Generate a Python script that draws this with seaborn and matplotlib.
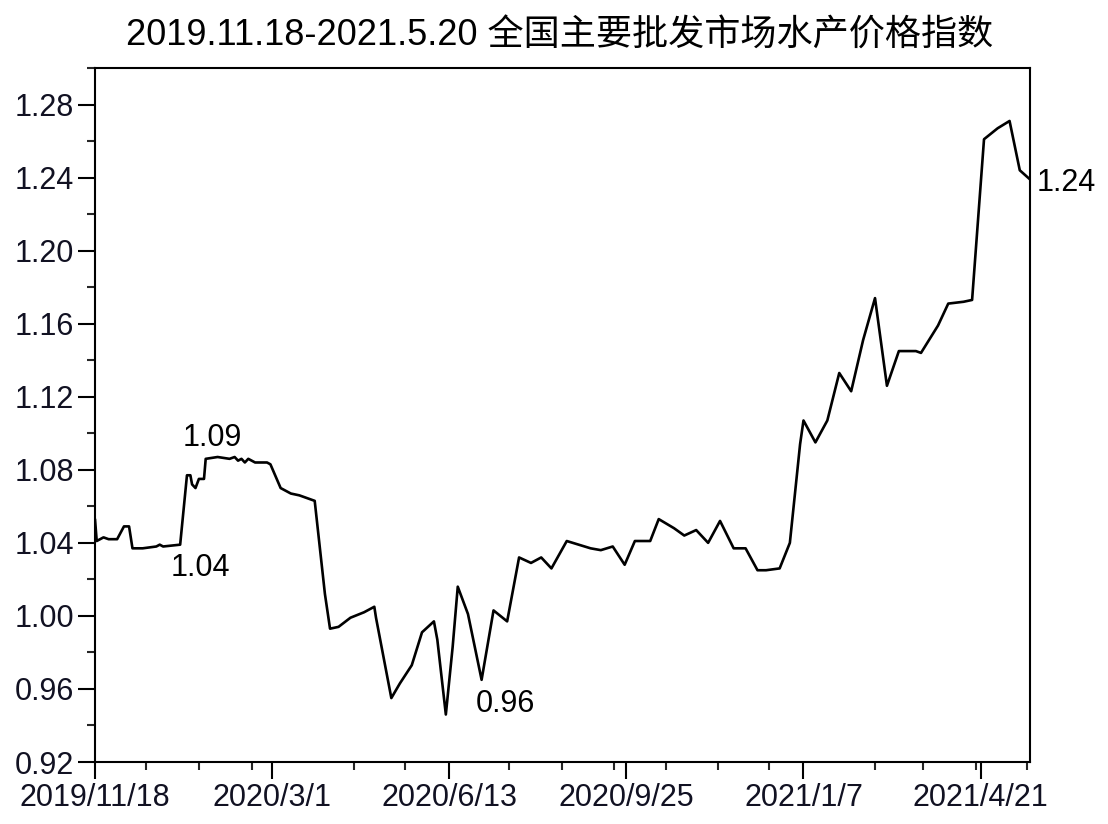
import numpy as np
import pandas as pd
import matplotlib
matplotlib.use("Agg")
import matplotlib.pyplot as plt
import seaborn as sns

# ---- data ----
start_date = "2019-11-18"
day_offsets = [0, 1, 5, 8, 13, 17, 20, 22, 28, 36, 38, 40, 50, 54, 56, 57, 59, 61, 64, 65,
               72, 79, 82, 84, 86, 88, 90, 92, 94, 101, 103, 109, 115, 120, 129, 135, 138,
               143, 150, 158, 164, 165, 174, 179, 186, 192, 199, 201, 206, 210, 213, 219,
               227, 234, 242, 249, 256, 262, 268, 277, 284, 291, 297, 304, 311, 317, 326,
               331, 340, 346, 353, 360, 367, 375, 382, 389, 394, 402, 408, 414, 416, 423,
               430, 437, 444, 451, 458, 465, 472, 482, 485, 495, 501, 510, 515, 522, 530,
               537, 543, 549]
index_values = [1.053, 1.041, 1.043, 1.042, 1.042, 1.049, 1.049, 1.037, 1.037, 1.038, 1.039,
                1.038, 1.039, 1.077, 1.077, 1.072, 1.070, 1.075, 1.075, 1.086, 1.087, 1.086,
                1.087, 1.085, 1.086, 1.084, 1.086, 1.085, 1.084, 1.084, 1.083, 1.070, 1.067,
                1.066, 1.063, 1.012, 0.993, 0.994, 0.999, 1.002, 1.005, 0.999, 0.955, 0.963,
                0.973, 0.991, 0.997, 0.987, 0.946, 0.983, 1.016, 1.001, 0.965, 1.003, 0.997,
                1.032, 1.029, 1.032, 1.026, 1.041, 1.039, 1.037, 1.036, 1.038, 1.028, 1.041,
                1.041, 1.053, 1.048, 1.044, 1.047, 1.040, 1.052, 1.037, 1.037, 1.025, 1.025,
                1.026, 1.040, 1.094, 1.107, 1.095, 1.107, 1.133, 1.123, 1.151, 1.174, 1.126,
                1.145, 1.145, 1.144, 1.159, 1.171, 1.172, 1.173, 1.261, 1.267, 1.271, 1.244,
                1.239]

tick_labels = ["2019/11/18", "2020/3/1", "2020/6/13", "2020/9/25", "2021/1/7", "2021/4/21"]
minor_tick_dates = ["2019-12-18", "2020-01-18", "2020-02-18", "2020-04-18", "2020-05-18",
                    "2020-07-18", "2020-08-18", "2020-09-18", "2020-10-18", "2020-11-18",
                    "2020-12-18", "2021-02-18", "2021-03-18", "2021-04-18", "2021-05-18"]
y_ticks = [0.92, 0.96, 1.00, 1.04, 1.08, 1.12, 1.16, 1.20, 1.24, 1.28]

annot_labels = ["1.09", "1.04", "0.96", "1.24"]
annot_days = [69, 62, 241, 553]
annot_values = [1.0975, 1.026, 0.952, 1.237]

title = "2019.11.18-2021.5.20 全国主要批发市场水产价格指数"

# ---- build ----
base = pd.Timestamp(start_date)
df = pd.DataFrame({"date": base + pd.to_timedelta(day_offsets, unit="D"),
                   "value": index_values})

sns.set_style("white")
plt.rcParams["font.family"] = ["Liberation Sans", "Noto Sans CJK SC", "DejaVu Sans"]

fig = plt.figure(figsize=(11.08, 8.24), dpi=100)
ax = fig.add_axes([95 / 1108, 1 - 762 / 824, (1030 - 95) / 1108, (762 - 68) / 824])

sns.lineplot(data=df, x="date", y="value", ax=ax, color="black", linewidth=1.9)

ax.set_xlim(base, pd.Timestamp("2021-05-20"))
ax.set_ylim(0.92, 1.30)

major_dates = [pd.Timestamp(s.replace("/", "-")) for s in tick_labels]
ax.set_xticks(major_dates)
ax.set_xticklabels(tick_labels)
ax.set_xticks([pd.Timestamp(s) for s in minor_tick_dates], minor=True)
ax.set_yticks(y_ticks)
ax.set_yticklabels([f"{v:.2f}" for v in y_ticks])
ax.set_yticks(np.arange(0.94, 1.30, 0.04), minor=True)

ax.set_xlabel("")
ax.set_ylabel("")
for s in ax.spines.values():
    s.set_color("black")
    s.set_linewidth(1.5)

ax.tick_params(axis="both", which="major", direction="out", length=12, width=1.5,
               labelsize=22, colors="black", pad=3,
               bottom=True, left=True, top=False, right=False)
ax.tick_params(axis="both", which="minor", direction="out", length=6, width=1.5,
               bottom=True, left=True, top=False, right=False)
for lab in ax.get_xticklabels() + ax.get_yticklabels():
    lab.set_color("#111122")

for lab, d, v in zip(annot_labels, annot_days, annot_values):
    x = base + pd.Timedelta(days=d)
    ha = "left" if lab == "1.24" else "center"
    ax.text(x, v, lab, fontsize=22, ha=ha, va="center", color="black", clip_on=False)

fig.text(0.505, 1 - 36 / 824, title, ha="center", va="center", fontsize=26, color="black")

fig.savefig("out.png", dpi=100, facecolor="white")
